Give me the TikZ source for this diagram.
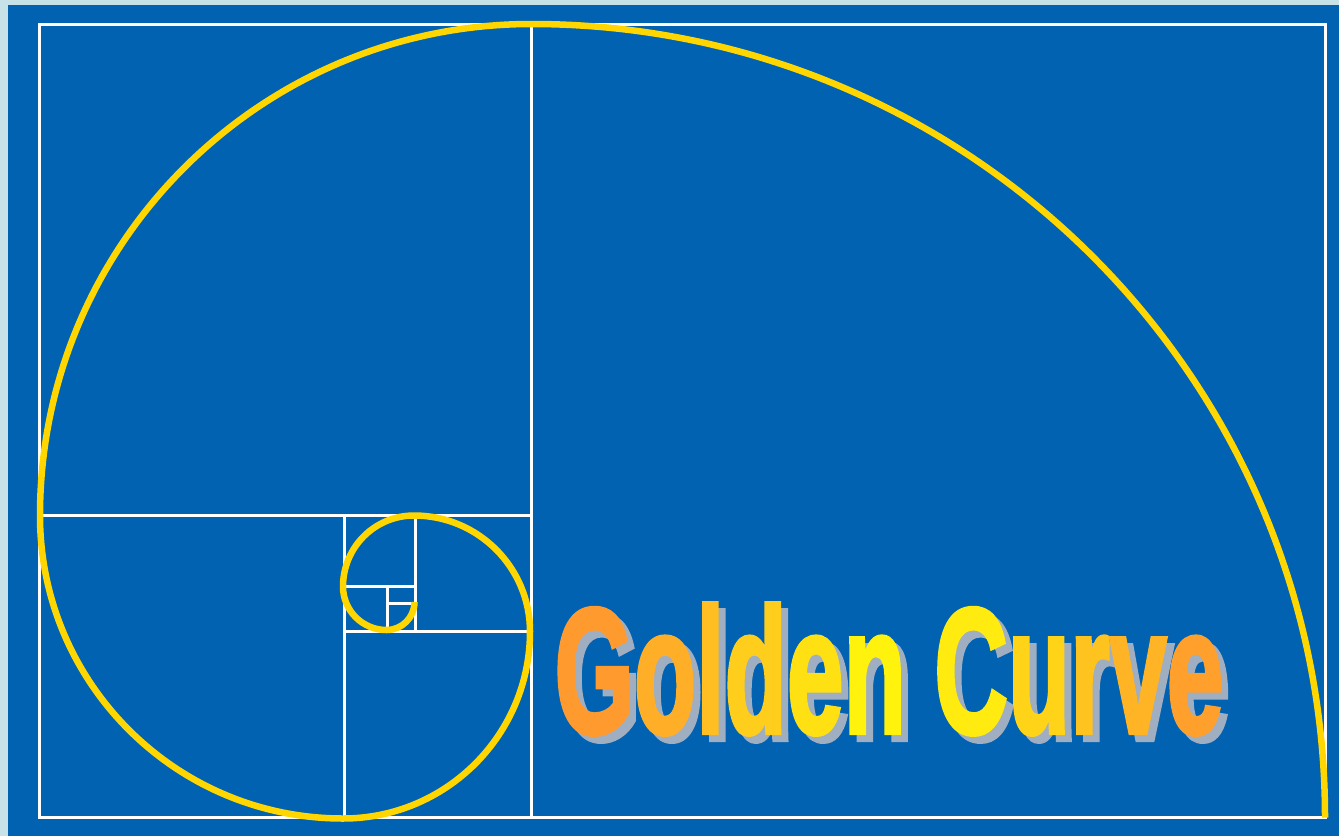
\documentclass[tikz,border=0pt]{standalone}
\usepackage{fontspec}
\usepackage{tikz}
\newfontfamily\titlefont[FakeBold=2.5]{Liberation Sans}
\newcommand\titlesize{\titlefont\bfseries\fontsize{179}{179}\selectfont}
\newcommand\titlescale[1]{\scalebox{0.57}[1]{#1}}
% one letter of the title, #1 = share of yellow
\newcommand\gl[2]{{\color{titleyellow!#1!titleorange}#2}}

\definecolor{frameblue}{RGB}{0,98,176}
\definecolor{edgecyan}{RGB}{200,227,232}
\definecolor{spiralgold}{RGB}{255,214,0}
\definecolor{titleorange}{RGB}{255,150,48}
\definecolor{titleyellow}{RGB}{255,250,10}
\definecolor{titleshadow}{RGB}{160,174,194}

\begin{document}
\begin{tikzpicture}[x=1pt, y=-1pt,
  gridline/.style={draw=white, line width=3pt},
  spiral/.style={draw=spiralgold, line width=6.5pt},
  titletext/.style={inner sep=0pt, font=\titlesize},
]
  \useasboundingbox (0,0) rectangle (1339,836);
  \fill[edgecyan] (0,0) rectangle (1339,836);
  \fill[frameblue] (8,5) rectangle (1339,836);

  % squares of the golden rectangle
  \coordinate (nw) at (39.5,24.5);
  \coordinate (se) at (1325,817.5);
  \draw[gridline] (nw) rectangle (se);
  \draw[gridline] (531,24.5) -- (531,817.5);
  \draw[gridline] (39.5,515.5) -- (531,515.5);
  \draw[gridline] (344.5,515.5) -- (344.5,817.5);
  \draw[gridline] (344.5,631) -- (531,631);
  \draw[gridline] (415,515.5) -- (415,631);
  \draw[gridline] (344.5,586) -- (415,586);
  \draw[gridline] (387.5,586) -- (387.5,631);
  \draw[gridline] (387.5,603) -- (415,603);

  % the spiral
  \draw[spiral] (se)
    arc[start angle=0, end angle=-90, radius=793.5]
    arc[start angle=-90, end angle=-180, radius=491.5]
    arc[start angle=180, end angle=90, radius=303]
    arc[start angle=90, end angle=0, radius=187]
    arc[start angle=0, end angle=-90, radius=116]
    arc[start angle=-90, end angle=-180, radius=71]
    arc[start angle=180, end angle=90, radius=43.5]
    arc[start angle=90, end angle=0, radius=28];

  % title
  \node[titletext, text=titleshadow] (shadow) at (896,676) {\titlescale{Golden Curve}};
  \node[titletext] (title) at (889,669) {\titlescale{\gl{5}{G}\gl{25}{o}\gl{40}{l}\gl{55}{d}\gl{75}{e}\gl{92}{n} \gl{85}{C}\gl{62}{u}\gl{45}{r}\gl{30}{v}\gl{10}{e}}};
\end{tikzpicture}
\end{document}
